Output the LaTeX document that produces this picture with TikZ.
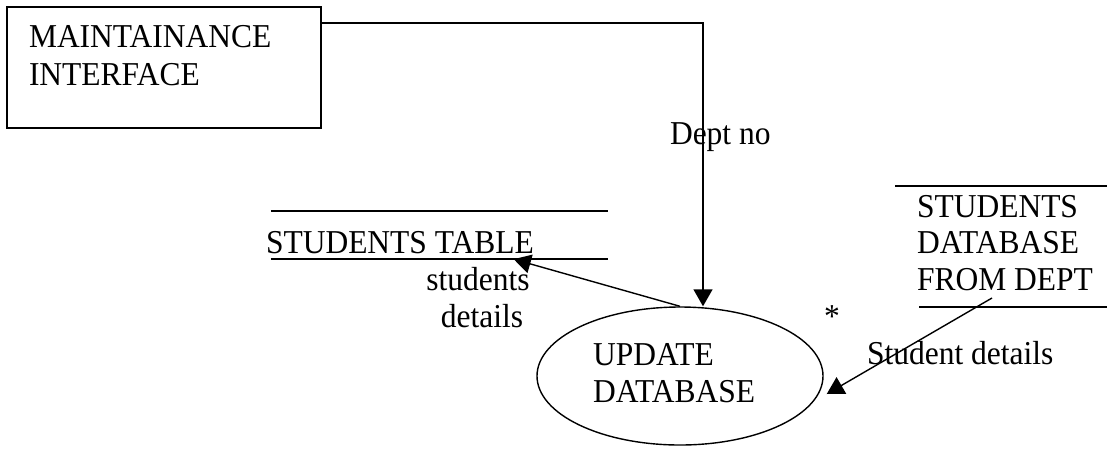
\documentclass[tikz,border=0pt]{standalone}
\usepackage{fontspec}
\setmainfont{Liberation Serif}
\usetikzlibrary{arrows.meta,shapes.geometric,calc}
\tikzset{
  txt/.style={inner sep=0pt, outer sep=0pt, yscale=1.06, font=\fontsize{31.5}{37}\selectfont},
  wire/.style={line width=1.4pt},
  flow/.style={wire, -{Triangle[length=17pt,width=19pt]}},
  store/.style={line width=1.6pt}
}
\begin{document}
\begin{tikzpicture}[x=1pt,y=-1pt]
  \useasboundingbox (0,0) rectangle (1107,451);

  % external entity
  \node[draw, line width=1.6pt, minimum width=314pt, minimum height=121pt, inner sep=0pt] (mi) at (164,67.5) {};
  \node[txt, anchor=base west] (milbl1) at (29,47) {MAINTAINANCE};
  \node[txt, anchor=base west] (milbl2) at (29,85) {INTERFACE};

  % process
  \node[ellipse, draw, line width=1.4pt, minimum width=286pt, minimum height=138pt, inner sep=0pt] (upd) at (680,376) {};
  \node[txt, anchor=base west] (updl1) at (593,365) {UPDATE};
  \node[txt, anchor=base west] (updl2) at (593,402) {DATABASE};

  % data store: students table
  \node[minimum width=337pt, minimum height=48pt, inner sep=0pt] (st) at (439.5,235) {};
  \draw[store] (st.north west) -- (st.north east);
  \draw[store] (st.south west) -- (st.south east);
  \node[txt, anchor=base west] (stl) at (266,253) {STUDENTS TABLE};

  % data store: students database from dept
  \coordinate (sdtw) at (895,186);
  \coordinate (sdte) at (1107,186);
  \coordinate (sdbw) at (919,307);
  \coordinate (sdbe) at (1107,307);
  \draw[store] (sdtw) -- (sdte);
  \draw[store] (sdbw) -- (sdbe);
  \node[txt, anchor=base west] (sd1) at (917,217) {STUDENTS};
  \node[txt, anchor=base west] (sd2) at (917,253) {DATABASE};
  \node[txt, anchor=base west] (sd3) at (917,290) {FROM DEPT};
  \coordinate (sdout) at (992,298);

  % flows
  \coordinate (bend) at (703,23);
  \draw[flow] (mi.east |- bend) -- (bend) -- (upd.north -| bend);
  \node[txt, anchor=base west] (deptno) at (670,144) {Dept no};

  \draw[flow] (upd.north) -- ($(st.south west)!0.72!(st.south east)$);
  \node[txt, anchor=base] (sdet1) at (478,290) {students};
  \node[txt, anchor=base] (sdet2) at (482,327) {details};

  \draw[flow] (sdout) -- ($(upd.east)+(3,18)$);
  \node[txt, anchor=base west] (stdet) at (867,364) {Student details};
  \node[txt, anchor=base] (star) at (832,327) {*};
\end{tikzpicture}
\end{document}
